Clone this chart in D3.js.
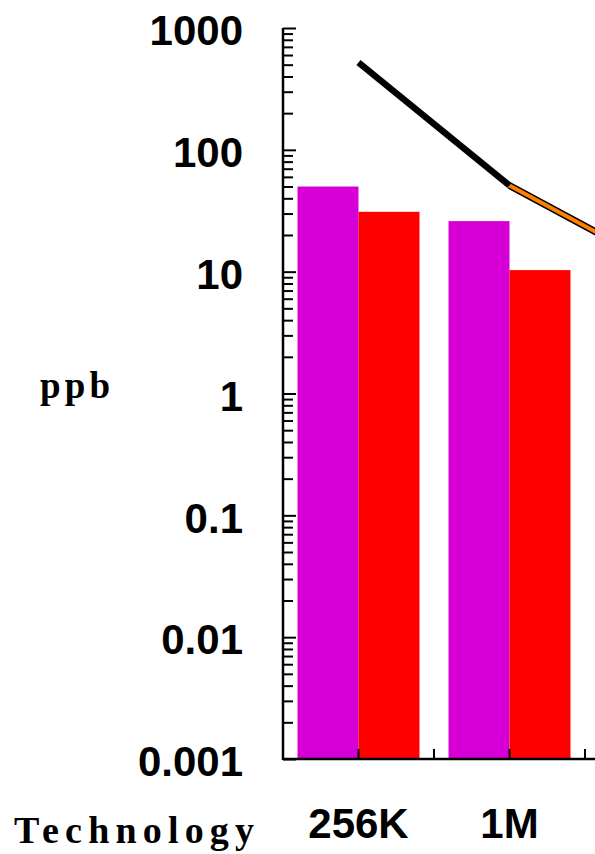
<!DOCTYPE html>
<html><head><meta charset="utf-8">
<script src="https://cdn.jsdelivr.net/npm/d3@7"></script>
<style>body{margin:0;background:#fff;}svg{display:block;}</style>
</head><body>
<svg id="c" width="595" height="854"></svg>
<script>
const categories = ["256K", "1M", "4M"];
const seriesNames = ["A", "B"];
const seriesA = [50, 26, null];      // magenta bars
const seriesB = [31, 10.3, null];    // red bars
const lineBlack = [520, 51, null];   // black line
const lineOrange = [null, 51, 11];   // orange line
const yTickValues = [0.001, 0.01, 0.1, 1, 10, 100, 1000];
const yTickLabels = ["0.001", "0.01", "0.1", "1", "10", "100", "1000"];

const W = 595;
const svg = d3.select("#c");
const x0 = 283, yTop = 28, yBot = 759, step = 151;
const x = d3.scaleBand().domain(categories).range([x0, x0 + step * categories.length]).padding(0);
const xs = d3.scaleBand().domain(seriesNames).range([0, x.bandwidth()]).paddingInner(0).paddingOuter(0.238);
const y = d3.scaleLog().domain([0.001, 1000]).range([yBot, yTop]);
const colors = {A: "#d600d6", B: "#ff0000"};

// bars
const g = svg.append("g");
categories.forEach((c, i) => {
  [["A", seriesA[i]], ["B", seriesB[i]]].forEach(([s, v]) => {
    if (v == null) return;
    g.append("rect")
      .attr("x", x(c) + xs(s))
      .attr("y", y(v))
      .attr("width", xs.bandwidth())
      .attr("height", yBot - y(v))
      .attr("fill", colors[s]);
  });
});

// lines
const cx = c => x(c) + x.bandwidth() / 2;
const mk = arr => d3.line().defined(d => d.v != null).x(d => cx(d.c)).y(d => y(d.v))(categories.map((c, i) => ({c, v: arr[i]})));
svg.append("path").attr("d", mk(lineOrange)).attr("fill", "none").attr("stroke", "#000").attr("stroke-width", 7);
svg.append("path").attr("d", mk(lineOrange)).attr("fill", "none").attr("stroke", "#ff8000").attr("stroke-width", 4);
svg.append("path").attr("d", mk(lineBlack)).attr("fill", "none").attr("stroke", "#000").attr("stroke-width", 6.5);

// y axis minor ticks
const minor = [];
for (let e = -3; e < 3; e++) for (let m = 2; m <= 9; m++) minor.push(m * Math.pow(10, e));
const yMinor = svg.append("g").attr("transform", `translate(${x0},0)`)
  .call(d3.axisLeft(y).tickValues(minor).tickSize(-10).tickFormat(""));
yMinor.select(".domain").remove();
yMinor.selectAll("line").attr("stroke", "#000").attr("stroke-width", 2);

// y axis major
const yAxis = svg.append("g").attr("transform", `translate(${x0},0)`)
  .call(d3.axisLeft(y).tickValues(yTickValues).tickSize(-13).tickPadding(40)
    .tickFormat((d, i) => yTickLabels[i]));
yAxis.select(".domain").attr("stroke", "#000").attr("stroke-width", 2.5).attr("d", `M0,${yTop}V${yBot + 1}`);
yAxis.selectAll("line").attr("stroke", "#000").attr("stroke-width", 2);
yAxis.selectAll("text").attr("font-family", "Liberation Sans, Arial, sans-serif")
  .attr("font-weight", "bold").attr("font-size", 42).attr("fill", "#000").attr("dy", "0.4em");

// x axis
svg.append("line").attr("x1", x0).attr("x2", W).attr("y1", yBot).attr("y2", yBot)
  .attr("stroke", "#000").attr("stroke-width", 2.5);
const xt = [];
categories.forEach(c => { xt.push(cx(c)); xt.push(x(c) + x.bandwidth()); });
svg.selectAll(".xt").data(xt).enter().append("line")
  .attr("x1", d => d).attr("x2", d => d).attr("y1", yBot).attr("y2", yBot - 10)
  .attr("stroke", "#000").attr("stroke-width", 2);
// only labels whose centre falls inside the visible page (reference is cropped)
svg.selectAll(".xl").data(categories.filter(c => cx(c) < W)).enter().append("text")
  .attr("x", d => cx(d)).attr("y", 838).attr("text-anchor", "middle")
  .attr("font-family", "Liberation Sans, Arial, sans-serif").attr("font-weight", "bold")
  .attr("font-size", 42).attr("fill", "#000").text(d => d);

// axis titles
svg.append("text").attr("x", 14).attr("y", 843).attr("font-family", "Liberation Serif, Times New Roman, serif")
  .attr("font-weight", "bold").attr("font-size", 38).attr("fill", "#000")
  .attr("textLength", 240).attr("lengthAdjust", "spacing").text("Technology");
svg.append("text").attr("x", 40).attr("y", 398).attr("font-family", "Liberation Serif, Times New Roman, serif")
  .attr("font-weight", "bold").attr("font-size", 37).attr("fill", "#000")
  .attr("textLength", 70).attr("lengthAdjust", "spacing").text("ppb");
</script>
</body></html>
